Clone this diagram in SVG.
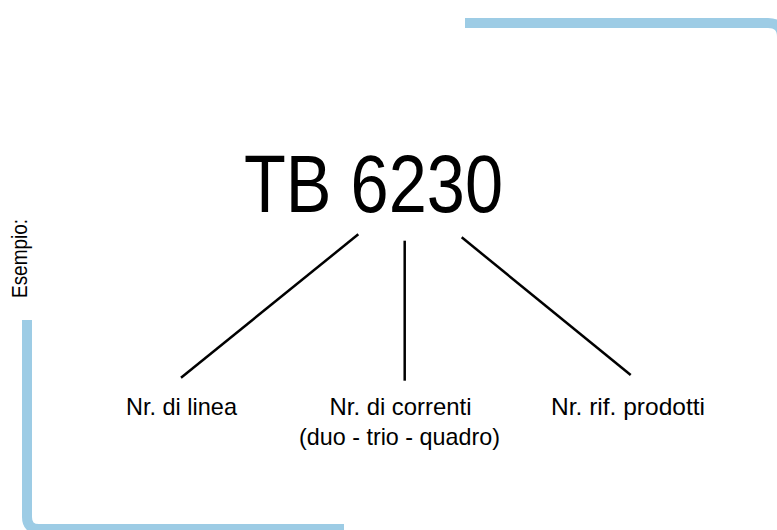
<svg xmlns="http://www.w3.org/2000/svg" width="777" height="530" viewBox="0 0 777 530">
  <style>
    .bar { fill: none; stroke: #9dcce5; stroke-width: 10; }
    .lbl { font-family: "Liberation Sans", Arial, sans-serif; font-size: 24px; fill: #000; text-anchor: middle; }
    .conn { stroke: #000; stroke-width: 2.5; fill: none; }
  </style>
  <rect width="777" height="530" fill="#fff"/>
  <g id="frame">
    <path class="bar" d="M465 23 H768 Q782 23 782 37 V60"/>
    <path class="bar" d="M27 320 V517 Q27 529 39 529 H344"/>
  </g>
  <g id="esempio">
    <text transform="translate(27 298) rotate(-90)" x="0" y="0" font-family="'Liberation Sans', Arial, sans-serif" font-size="22" textLength="79" lengthAdjust="spacingAndGlyphs">Esempio:</text>
  </g>
  <g id="code">
    <text x="373.5" y="211.7" font-family="'Liberation Sans', Arial, sans-serif" font-size="81" text-anchor="middle" textLength="259" lengthAdjust="spacingAndGlyphs">TB 6230</text>
  </g>
  <g id="connectors">
    <line class="conn" x1="358.3" y1="234.3" x2="181" y2="377.7"/>
    <line class="conn" x1="404.7" y1="240.7" x2="404.7" y2="380.7"/>
    <line class="conn" x1="461.7" y1="237.3" x2="630.7" y2="375"/>
  </g>
  <g id="linea">
    <text class="lbl" x="181.5" y="415" textLength="111" lengthAdjust="spacingAndGlyphs">Nr. di linea</text>
  </g>
  <g id="correnti">
    <text class="lbl" x="400.5" y="415" textLength="142" lengthAdjust="spacingAndGlyphs">Nr. di correnti</text>
    <text class="lbl" x="399.5" y="445" textLength="201" lengthAdjust="spacingAndGlyphs">(duo - trio - quadro)</text>
  </g>
  <g id="prodotti">
    <text class="lbl" x="628" y="415" textLength="154" lengthAdjust="spacingAndGlyphs">Nr. rif. prodotti</text>
  </g>
</svg>
